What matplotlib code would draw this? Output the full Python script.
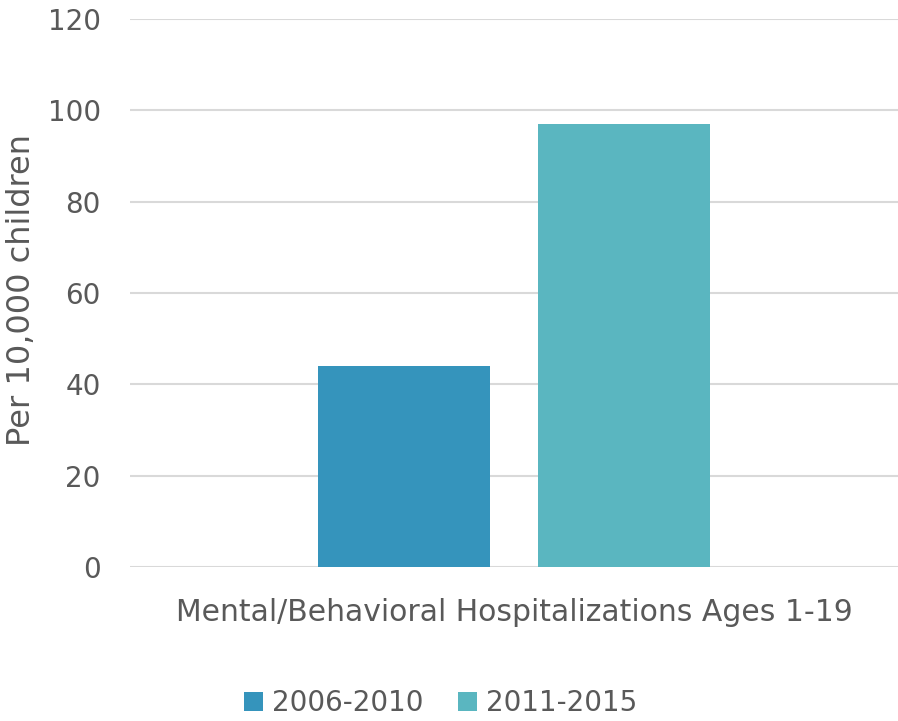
import matplotlib
matplotlib.use("Agg")
import matplotlib.pyplot as plt
import numpy as np

categories = ["Mental/Behavioral Hospitalizations Ages 1-19"]
series_names = ["2006-2010", "2011-2015"]
values_2006_2010 = [44]
values_2011_2015 = [97]
colors = ["#3594BC", "#5AB6C0"]
yticks = [0, 20, 40, 60, 80, 100, 120]

plt.rcParams['font.family'] = ['DejaVu Sans']
fig = plt.figure(figsize=(8.98, 7.21), dpi=100)
ax = fig.add_axes([130/898, 1-567/721, 768/898, 548/721])

x = np.arange(len(categories))
w = 0.224
off = 0.143
ax.bar(x - off, values_2006_2010, width=w, color=colors[0], label=series_names[0], zorder=3)
ax.bar(x + off, values_2011_2015, width=w, color=colors[1], label=series_names[1], zorder=3)

ax.set_xlim(-0.5, 0.5)
ax.set_ylim(0, 120)
ax.set_yticks(yticks)
ax.set_yticklabels([str(t) for t in yticks])
ax.set_xticks(x)
ax.set_xticklabels(categories)
ax.tick_params(axis='y', length=0, labelsize=20, colors='#595959', pad=21)
ax.tick_params(axis='x', length=0, labelsize=21.5, colors='#595959', pad=22)
ax.grid(axis='y', color='#D9D9D9', linewidth=1.5, zorder=0)
ax.set_axisbelow(True)
for s in ax.spines.values():
    s.set_visible(False)
ax.set_ylabel("Per 10,000 children", fontsize=23, color='#595959')
ax.yaxis.set_label_coords(-(130-22)/768, (567-290)/548)
ax.yaxis.label.set_va('center')

leg = fig.legend(loc='center', bbox_to_anchor=(441/898, 1-703/721), ncol=2, frameon=False,
                 fontsize=20, labelcolor='#595959', handlelength=0.65, handleheight=0.65,
                 handletextpad=0.35, columnspacing=1.25)

fig.savefig("out.png", dpi=100)
